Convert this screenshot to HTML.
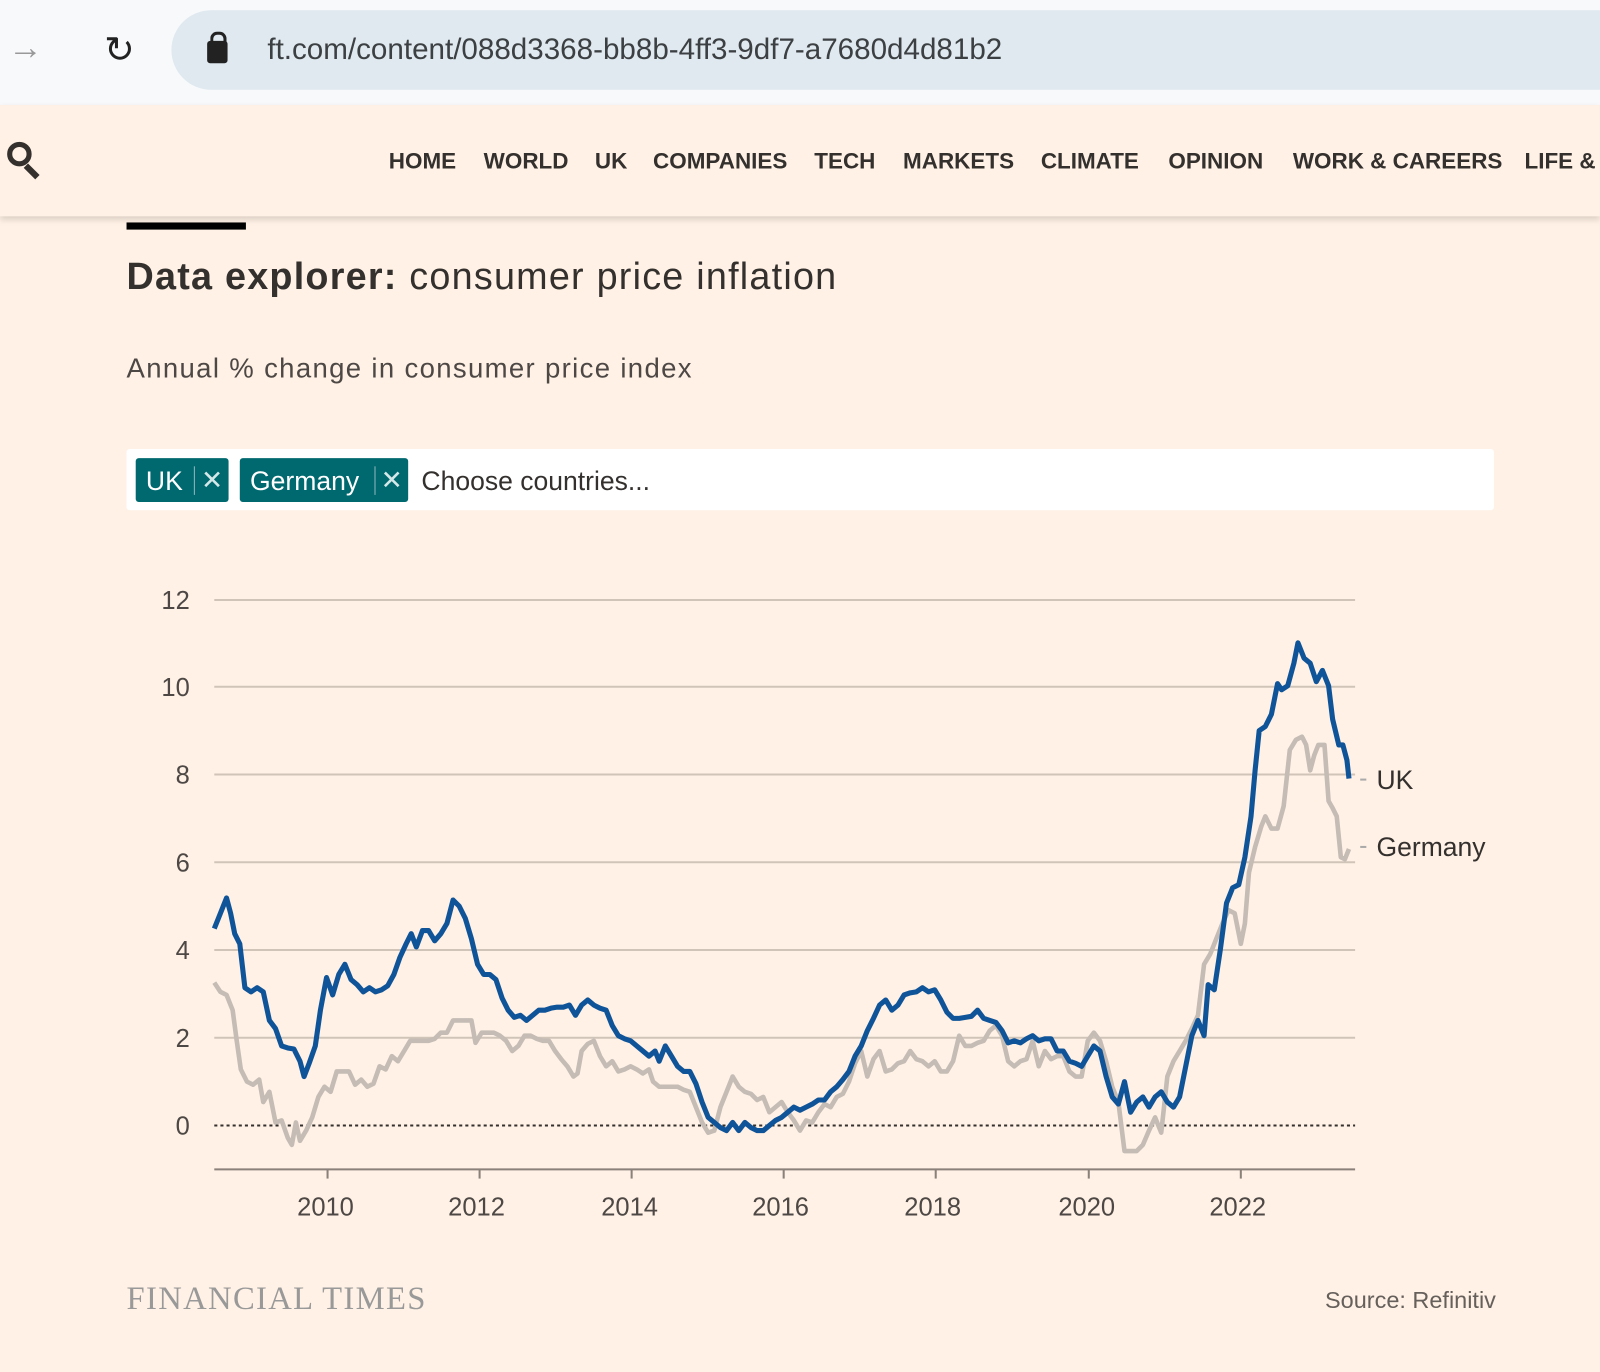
<!DOCTYPE html>
<html><head><meta charset="utf-8"><style>
html,body{margin:0;padding:0;background:#fff1e5;overflow:hidden;width:1600px;height:1372px}
#w{position:absolute;left:0;top:0;width:1568px;height:1345px;transform:scale(1.020408);transform-origin:0 0;font-family:"Liberation Sans",sans-serif}
.a{position:absolute;white-space:nowrap}
.nav{position:absolute;top:145px;font-weight:bold;font-size:22px;color:#33302e}
</style></head><body><div id="w">
<div class="a" style="left:0;top:0;width:1568px;height:103px;background:#f8f9fb"></div>
<div class="a" style="left:168px;top:10px;width:1440px;height:78px;border-radius:39px;background:#dfe9ef"></div>
<div class="a" style="left:8px;top:28px;font-size:34px;color:#999">&#8594;</div>
<div class="a" style="left:102px;top:28px;font-size:36px;color:#222">&#8635;</div>
<div class="a" style="left:203px;top:40px;width:20px;height:22px;background:#222;border-radius:3px"></div>
<div class="a" style="left:206px;top:31px;width:10px;height:12px;border:3px solid #222;border-bottom:none;border-radius:7px 7px 0 0"></div>
<div class="a" style="left:262px;top:33px;font-size:29px;color:#3c4043">ft.com/content/088d3368-bb8b-4ff3-9df7-a7680d4d81b2</div>
<div class="a" style="left:0;top:103px;width:1568px;height:109px;background:#fff1e5;box-shadow:0 3px 6px rgba(0,0,0,0.15)"></div>
<div class="a" style="left:7px;top:139px;width:24px;height:24px;border:5px solid #33302e;border-radius:50%;box-sizing:border-box"></div>
<div class="a" style="left:28px;top:160px;width:6px;height:16px;background:#33302e;transform:rotate(-45deg)"></div>
<div class="nav" style="left:381px">HOME</div>
<div class="nav" style="left:474px">WORLD</div>
<div class="nav" style="left:583px">UK</div>
<div class="nav" style="left:640px">COMPANIES</div>
<div class="nav" style="left:798px">TECH</div>
<div class="nav" style="left:885px">MARKETS</div>
<div class="nav" style="left:1020px">CLIMATE</div>
<div class="nav" style="left:1145px">OPINION</div>
<div class="nav" style="left:1267px">WORK &amp; CAREERS</div>
<div class="nav" style="left:1494px">LIFE &amp;</div>
<div class="a" style="left:124px;top:218px;width:117px;height:7px;background:#000"></div>
<div class="a" style="left:124px;top:250px;font-size:37px;color:#33302e;letter-spacing:1.2px"><b>Data explorer:</b> consumer price inflation</div>
<div class="a" style="left:124px;top:346px;font-size:27px;color:#4d4845;letter-spacing:1.3px">Annual % change in consumer price index</div>
<div class="a" style="left:124px;top:440px;width:1340px;height:60px;background:#fff;border-radius:3px"></div>
<div class="a" style="left:133px;top:449px;width:91px;height:43px;background:#00696f;border-radius:3px"></div>
<div class="a" style="left:143px;top:456px;font-size:26px;color:#fff">UK</div>
<div class="a" style="left:190px;top:457px;width:1px;height:28px;background:#8fb8bb"></div>
<div class="a" style="left:197px;top:455px;font-size:26px;color:#d5e8e9">&#10005;</div>
<div class="a" style="left:235px;top:449px;width:165px;height:43px;background:#00696f;border-radius:3px"></div>
<div class="a" style="left:245px;top:456px;font-size:26px;color:#fff">Germany</div>
<div class="a" style="left:367px;top:457px;width:1px;height:28px;background:#8fb8bb"></div>
<div class="a" style="left:373px;top:455px;font-size:26px;color:#d5e8e9">&#10005;</div>
<div class="a" style="left:413px;top:456px;font-size:26px;color:#33302e">Choose countries...</div>
<svg class="a" style="left:0;top:0" width="1568" height="1345" viewBox="0 0 1568 1345">
<g stroke="#d0c4b8" stroke-width="2">
<line x1="210" x2="1328" y1="588" y2="588"/><line x1="210" x2="1328" y1="673" y2="673"/><line x1="210" x2="1328" y1="759" y2="759"/><line x1="210" x2="1328" y1="845" y2="845"/><line x1="210" x2="1328" y1="931" y2="931"/><line x1="210" x2="1328" y1="1017" y2="1017"/>
</g>
<line x1="210" x2="1328" y1="1146" y2="1146" stroke="#8a817a" stroke-width="2"/>
<g stroke="#8a817a" stroke-width="2"><line x1="321" x2="321" y1="1146" y2="1155"/><line x1="470" x2="470" y1="1146" y2="1155"/><line x1="619" x2="619" y1="1146" y2="1155"/><line x1="768" x2="768" y1="1146" y2="1155"/><line x1="917" x2="917" y1="1146" y2="1155"/><line x1="1067" x2="1067" y1="1146" y2="1155"/><line x1="1216" x2="1216" y1="1146" y2="1155"/></g>
<line x1="210" x2="1328" y1="1103" y2="1103" stroke="#33302e" stroke-width="2" stroke-dasharray="3,3"/>
<g font-family="Liberation Sans, sans-serif" font-size="25" fill="#4d4845" text-anchor="end">
<text x="186" y="597">12</text><text x="186" y="682">10</text><text x="186" y="768">8</text><text x="186" y="854">6</text><text x="186" y="940">4</text><text x="186" y="1026">2</text><text x="186" y="1112">0</text>
</g>
<g font-family="Liberation Sans, sans-serif" font-size="25" fill="#4d4845" text-anchor="middle">
<text x="319" y="1191">2010</text><text x="467" y="1191">2012</text><text x="617" y="1191">2014</text><text x="765" y="1191">2016</text><text x="914" y="1191">2018</text><text x="1065" y="1191">2020</text><text x="1213" y="1191">2022</text>
</g>
<polyline fill="none" stroke="#c4bcb5" stroke-width="4.5" stroke-linejoin="round" points="210,963 216,972 222,975 228,990 232,1020 236,1048 242,1060 248,1063 254,1058 258,1080 264,1070 270,1100 276,1098 282,1115 286,1122 290,1100 294,1118 300,1108 306,1095 312,1075 318,1065 324,1070 330,1050 336,1050 342,1050 348,1063 354,1058 360,1065 366,1062 372,1045 378,1048 384,1035 390,1040 396,1030 402,1020 408,1020 414,1020 420,1020 426,1018 432,1012 438,1012 444,1000 450,1000 456,1000 462,1000 466,1022 472,1012 478,1012 484,1012 490,1015 496,1020 502,1030 508,1025 514,1015 520,1015 526,1018 532,1020 538,1020 544,1030 550,1038 556,1045 562,1055 566,1052 570,1030 576,1023 582,1020 588,1035 594,1045 600,1040 606,1050 612,1048 618,1045 624,1048 630,1052 636,1048 640,1060 646,1065 652,1065 658,1065 664,1065 670,1068 676,1070 682,1085 688,1100 694,1110 700,1108 706,1085 712,1070 718,1055 724,1065 730,1070 736,1072 742,1078 748,1075 754,1090 760,1085 766,1080 772,1090 778,1098 784,1108 790,1098 796,1100 802,1090 808,1082 814,1085 820,1075 826,1072 832,1060 838,1042 844,1030 850,1055 856,1038 862,1030 868,1050 874,1048 880,1042 886,1040 892,1030 898,1038 904,1040 910,1045 916,1040 922,1050 928,1050 934,1040 940,1015 946,1025 952,1025 958,1022 964,1020 970,1010 976,1005 982,1015 988,1040 994,1045 1000,1040 1006,1038 1012,1020 1018,1045 1024,1030 1030,1038 1036,1035 1042,1035 1048,1050 1054,1055 1060,1055 1066,1020 1072,1012 1078,1020 1084,1040 1090,1065 1096,1080 1102,1128 1108,1128 1114,1128 1120,1122 1126,1108 1132,1095 1138,1110 1144,1055 1150,1040 1156,1030 1162,1020 1168,1008 1174,995 1180,945 1186,935 1192,920 1198,905 1204,892 1210,895 1216,925 1220,905 1224,855 1230,830 1236,810 1240,800 1246,812 1252,812 1258,790 1264,735 1270,725 1276,722 1280,730 1284,755 1288,740 1292,730 1298,730 1302,785 1306,792 1310,800 1314,840 1318,842 1322,832"/>
<polyline fill="none" stroke="#0f5499" stroke-width="5" stroke-linejoin="round" points="210,910 216,895 222,880 226,895 230,915 235,925 240,968 246,972 252,968 258,972 264,1000 270,1008 276,1025 282,1027 288,1028 294,1040 298,1055 303,1042 309,1025 314,990 320,958 326,975 332,955 338,945 344,960 350,965 356,972 362,968 368,972 374,970 380,966 386,955 392,938 398,925 403,915 408,928 414,912 420,912 426,922 432,915 438,905 444,882 450,888 456,900 462,920 468,945 474,955 480,955 486,960 492,978 498,990 504,997 510,995 516,1000 522,995 528,990 534,990 540,988 546,987 552,987 558,985 564,995 570,985 576,980 582,985 588,988 594,990 600,1005 606,1015 612,1018 618,1020 624,1025 630,1030 636,1035 642,1030 646,1040 652,1025 658,1035 664,1045 670,1050 676,1050 682,1062 688,1080 694,1095 700,1100 706,1105 712,1108 718,1100 724,1108 730,1100 736,1105 742,1108 748,1108 754,1103 760,1098 766,1095 772,1090 778,1085 784,1088 790,1085 796,1082 802,1078 808,1078 814,1070 820,1065 826,1058 832,1050 838,1035 844,1025 850,1010 856,998 862,985 868,980 874,990 880,985 886,975 892,973 898,972 904,968 910,972 916,970 922,980 928,992 934,998 940,998 946,997 952,996 958,990 964,998 970,1000 976,1002 982,1010 988,1022 994,1020 1000,1022 1006,1018 1012,1015 1018,1020 1024,1018 1030,1018 1036,1030 1042,1030 1048,1040 1054,1042 1060,1045 1066,1035 1072,1025 1078,1030 1084,1055 1090,1075 1096,1082 1102,1060 1108,1090 1114,1080 1120,1075 1126,1085 1132,1075 1138,1070 1144,1080 1150,1085 1156,1075 1162,1045 1168,1015 1174,1000 1180,1015 1184,965 1190,970 1196,930 1202,885 1208,870 1214,867 1220,840 1226,800 1230,755 1234,716 1240,712 1246,700 1252,670 1256,676 1262,672 1268,650 1272,630 1278,645 1284,650 1290,668 1296,657 1302,672 1306,705 1312,730 1316,730 1320,745 1322,763"/>
<line x1="1333" x2="1339" y1="764" y2="764" stroke="#aaa" stroke-width="2"/>
<line x1="1333" x2="1339" y1="830" y2="830" stroke="#aaa" stroke-width="2"/>
<g font-family="Liberation Sans, sans-serif" font-size="26" fill="#33302e"><text x="1349" y="773">UK</text><text x="1349" y="839">Germany</text></g>
</svg>
<div class="a" style="left:124px;top:1254px;font-family:'Liberation Serif',serif;font-size:32px;color:#999;letter-spacing:1.3px">FINANCIAL TIMES</div>
<div class="a" style="right:102px;top:1261px;font-size:23px;color:#66605c">Source: Refinitiv</div>
</div></body></html>
